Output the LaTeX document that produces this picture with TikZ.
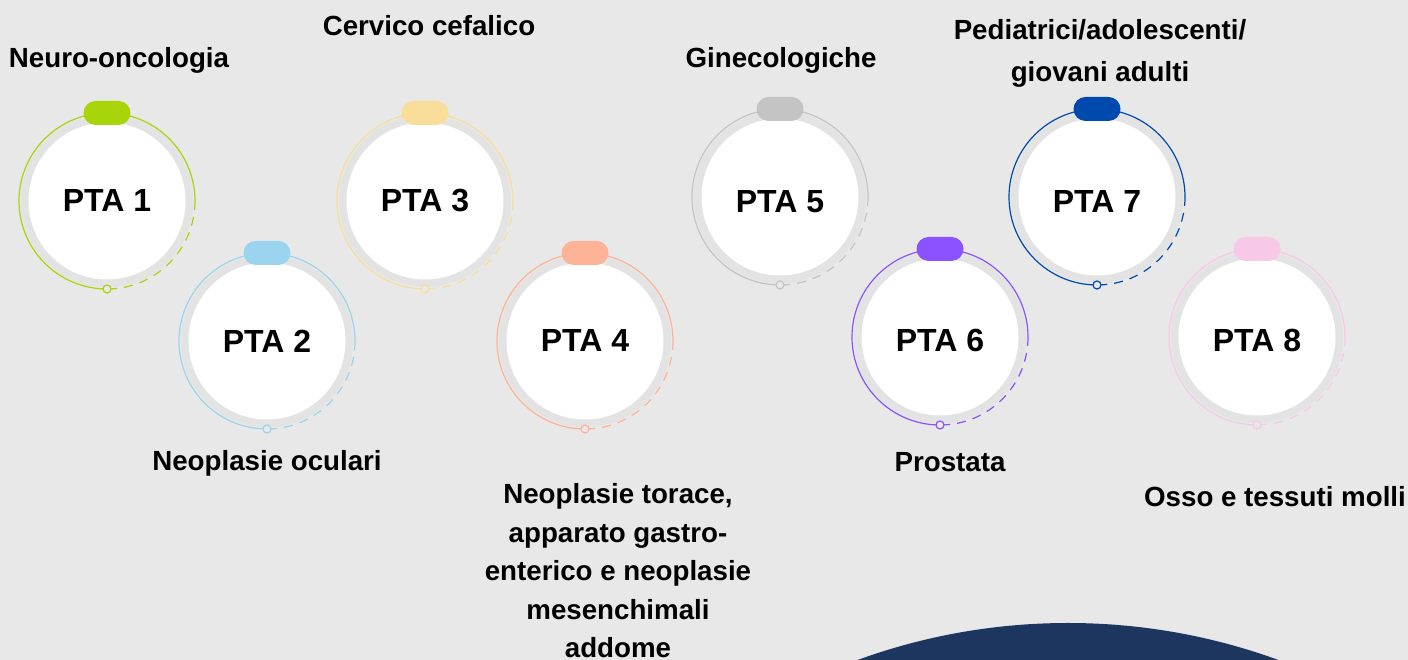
\documentclass[tikz,border=0pt]{standalone}
\usepackage{fontspec}
\setmainfont{Liberation Sans}
\definecolor{bgcol}{HTML}{E8E8E8}
\definecolor{bandcol}{HTML}{E3E3E3}
\definecolor{navy}{HTML}{1D365F}
\definecolor{ptalime}{HTML}{A8D40A}
\definecolor{ptasky}{HTML}{9AD4EF}
\definecolor{ptasand}{HTML}{F8DE98}
\definecolor{ptasalmon}{HTML}{FFB396}
\definecolor{ptagrey}{HTML}{C4C4C4}
\definecolor{ptaviolet}{HTML}{8C52FF}
\definecolor{ptablue}{HTML}{004AAD}
\definecolor{ptapink}{HTML}{F7C8E8}
\tikzset{
  disc/.style={circle, fill=white, minimum size=157pt, inner sep=0pt,
    font=\fontsize{32}{32}\selectfont\bfseries},
  ring/.style={line width=1.2pt},
  dashring/.style={line width=1.2pt, dash pattern=on 9pt off 7pt},
  tab/.style={rectangle, rounded corners=12pt, minimum width=47pt, minimum height=24pt, inner sep=0pt},
  dot/.style={circle, fill=bgcol, minimum size=8pt, inner sep=0pt, line width=1.2pt},
  label/.style={font=\fontsize{27.7}{38.5}\selectfont\bfseries, align=center}
}
\begin{document}
\begin{tikzpicture}[x=1pt, y=1pt]
    \useasboundingbox (0,0) rectangle (1408,660);
    \fill[bgcol] (0,0) rectangle (1408,660);
    \begin{scope}
      \clip (0,0) rectangle (1408,660);
      \fill[navy] (1068,-577) circle (614);
    \end{scope}

    \fill[bandcol] (107,459) circle (86);
    \node[disc] (pta1) at (107,459) {PTA 1};
    \draw[ptalime, ring] ([xshift=88]pta1.center) arc[start angle=0, end angle=270, radius=88];
    \draw[ptalime, dashring] ([xshift=88]pta1.center) arc[start angle=0, end angle=-90, radius=88];
    \node[tab, fill=ptalime] (tab1) at ([yshift=88]pta1.center) {};
    \node[dot, draw=ptalime] (dot1) at ([yshift=-88]pta1.center) {};

    \fill[bandcol] (267,319) circle (86);
    \node[disc] (pta2) at (267,319) {PTA 2};
    \draw[ptasky, ring] ([xshift=88]pta2.center) arc[start angle=0, end angle=270, radius=88];
    \draw[ptasky, dashring] ([xshift=88]pta2.center) arc[start angle=0, end angle=-90, radius=88];
    \node[tab, fill=ptasky] (tab2) at ([yshift=88]pta2.center) {};
    \node[dot, draw=ptasky] (dot2) at ([yshift=-88]pta2.center) {};

    \fill[bandcol] (425,459) circle (86);
    \node[disc] (pta3) at (425,459) {PTA 3};
    \draw[ptasand, ring] ([xshift=88]pta3.center) arc[start angle=0, end angle=270, radius=88];
    \draw[ptasand, dashring] ([xshift=88]pta3.center) arc[start angle=0, end angle=-90, radius=88];
    \node[tab, fill=ptasand] (tab3) at ([yshift=88]pta3.center) {};
    \node[dot, draw=ptasand] (dot3) at ([yshift=-88]pta3.center) {};

    \fill[bandcol] (585,319) circle (86);
    \node[disc] (pta4) at (585,319) {PTA 4};
    \draw[ptasalmon, ring] ([xshift=88]pta4.center) arc[start angle=0, end angle=270, radius=88];
    \draw[ptasalmon, dashring] ([xshift=88]pta4.center) arc[start angle=0, end angle=-90, radius=88];
    \node[tab, fill=ptasalmon] (tab4) at ([yshift=88]pta4.center) {};
    \node[dot, draw=ptasalmon] (dot4) at ([yshift=-88]pta4.center) {};

    \fill[bandcol] (780,463) circle (86);
    \node[disc] (pta5) at (780,463) {\raisebox{-15.5pt}[0pt][0pt]{PTA 5}};
    \draw[ptagrey, ring] ([xshift=88]pta5.center) arc[start angle=0, end angle=270, radius=88];
    \draw[ptagrey, dashring] ([xshift=88]pta5.center) arc[start angle=0, end angle=-90, radius=88];
    \node[tab, fill=ptagrey] (tab5) at ([yshift=88]pta5.center) {};
    \node[dot, draw=ptagrey] (dot5) at ([yshift=-88]pta5.center) {};

    \fill[bandcol] (940,323) circle (86);
    \node[disc] (pta6) at (940,323) {\raisebox{-14.5pt}[0pt][0pt]{PTA 6}};
    \draw[ptaviolet, ring] ([xshift=88]pta6.center) arc[start angle=0, end angle=270, radius=88];
    \draw[ptaviolet, dashring] ([xshift=88]pta6.center) arc[start angle=0, end angle=-90, radius=88];
    \node[tab, fill=ptaviolet] (tab6) at ([yshift=88]pta6.center) {};
    \node[dot, draw=ptaviolet] (dot6) at ([yshift=-88]pta6.center) {};

    \fill[bandcol] (1097,463) circle (86);
    \node[disc] (pta7) at (1097,463) {\raisebox{-15.5pt}[0pt][0pt]{PTA 7}};
    \draw[ptablue, ring] ([xshift=88]pta7.center) arc[start angle=0, end angle=270, radius=88];
    \draw[ptablue, dashring] ([xshift=88]pta7.center) arc[start angle=0, end angle=-90, radius=88];
    \node[tab, fill=ptablue] (tab7) at ([yshift=88]pta7.center) {};
    \node[dot, draw=ptablue] (dot7) at ([yshift=-88]pta7.center) {};

    \fill[bandcol] (1257,323) circle (86);
    \node[disc] (pta8) at (1257,323) {\raisebox{-14.5pt}[0pt][0pt]{PTA 8}};
    \draw[ptapink, ring] ([xshift=88]pta8.center) arc[start angle=0, end angle=270, radius=88];
    \draw[ptapink, dashring] ([xshift=88]pta8.center) arc[start angle=0, end angle=-90, radius=88];
    \node[tab, fill=ptapink] (tab8) at ([yshift=88]pta8.center) {};
    \node[dot, draw=ptapink] (dot8) at ([yshift=-88]pta8.center) {};

    \node[label] (lab1) at (119,600) {Neuro-oncologia};
    \node[label] (lab2) at (267,197) {Neoplasie oculari};
    \node[label] (lab3) at (429,634) {Cervico cefalico};
    \node[label] (lab4) at (618,89) {Neoplasie torace,\\apparato gastro-\\enterico e neoplasie\\mesenchimali\\addome};
    \node[label] (lab5) at (781,600) {Ginecologiche};
    \node[label] (lab6) at (950,198) {Prostata};
    \node[label, font=\fontsize{27.7}{42}\selectfont\bfseries] (lab7) at (1100,607) {Pediatrici/adolescenti/\\giovani adulti};
    \node[label] (lab8) at (1275,163) {Osso e tessuti molli};
  \end{tikzpicture}
\end{document}
